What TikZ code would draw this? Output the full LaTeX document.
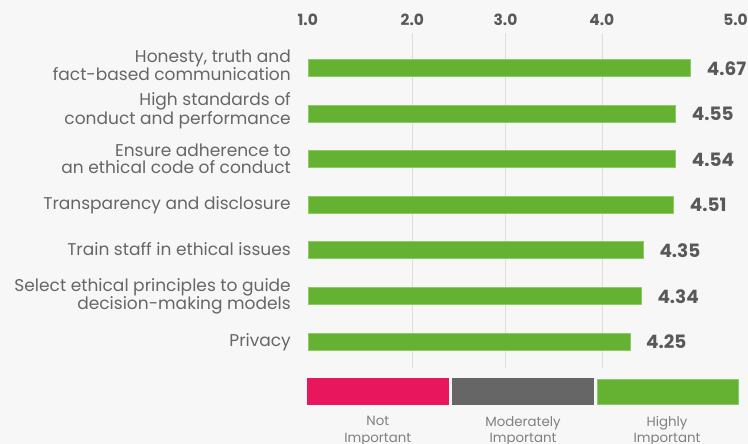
\documentclass[tikz,border=0pt]{standalone}
\usepackage{fontspec}
\setmainfont{Poppins}
\definecolor{bg}{HTML}{F7F7F7}
\definecolor{bargreen}{HTML}{65B232}
\definecolor{baredge}{HTML}{8CCB66}
\definecolor{legred}{HTML}{E8175D}
\definecolor{leggray}{HTML}{666666}
\definecolor{labgray}{HTML}{666666}
\definecolor{valgray}{HTML}{595959}
\definecolor{gridgray}{HTML}{DDDDDD}
\definecolor{leglab}{HTML}{808080}
\tikzset{
  catlabel/.style={anchor=east, align=right, inner sep=0pt, text=labgray, font=\fontsize{17.1}{16.8}\selectfont},
  vallabel/.style={anchor=west, inner sep=0pt, text=valgray, font=\fontsize{18.5}{19}\selectfont\bfseries},
  axislabel/.style={inner sep=0pt, text=valgray, font=\fontsize{15.5}{16}\selectfont\bfseries},
  barbox/.style={fill=bargreen, draw=baredge, line width=0.6bp},
  gridline/.style={draw=gridgray, line width=0.8bp},
  legbox/.style={anchor=north west, inner sep=0pt, minimum height=26.5bp},
  leglabel/.style={anchor=north, align=center, inner sep=0pt, text=leglab, font=\fontsize{13.4}{16.7}\selectfont}
}
\begin{document}
\begin{tikzpicture}[x=1bp,y=-1bp]
\path[fill=bg] (0,0) rectangle (748,444);
\useasboundingbox (0,0) rectangle (748,444);
% gridlines
\foreach \gx/\gn in {412.7/g2,505.7/g3,602/g4}{
  \coordinate (\gn top) at (\gx,33);
  \coordinate (\gn bot) at (\gx,368);
  \draw[gridline] (\gn top) -- (\gn bot);
}
% axis labels
\node[axislabel] (ax1) at (307.8,20) {1.0};
\node[axislabel] (ax2) at (412.3,20) {2.0};
\node[axislabel] (ax3) at (505.5,20) {3.0};
\node[axislabel] (ax4) at (601.8,20) {4.0};
\node[axislabel, anchor=east] (ax5) at (748,20) {5.0};
% bars and values
\foreach \n/\cy/\xe/\v in {b1/68/690.7/4.67, b2/113.5/675.7/4.55, b3/159/675.7/4.54, b4/204.5/673.7/4.51, b5/250/643.3/4.35, b6/296/641.3/4.34, b7/341.5/630/4.25}{
  \path[barbox] (308,\cy-8.6) rectangle (\xe,\cy+8.6);
  \coordinate (\n end) at (\xe+16,\cy+0.5);
  \node[vallabel] (\n val) at (\n end) {\v};
}
% category labels
\node[catlabel] (c1) at (291,65.5) {Honesty, truth and\\fact-based communication};
\node[catlabel] (c2) at (291,111) {High standards of\\conduct and performance};
\node[catlabel] (c3) at (291,159) {Ensure adherence to\\an ethical code of conduct};
\node[catlabel, anchor=base east] (c4) at (291,210) {Transparency and disclosure};
\node[catlabel, anchor=base east] (c5) at (291,256) {Train staff in ethical issues};
\node[catlabel] (c6) at (291,296.5) {Select ethical principles to guide\\decision-making models};
\node[catlabel, anchor=base east] (c7) at (291,346.7) {Privacy};
% legend
\node[legbox, fill=legred, minimum width=142.3bp] (lg1) at (306.7,378) {};
\node[legbox, fill=leggray, minimum width=142bp] (lg2) at (452,378) {};
\node[legbox, fill=bargreen, draw=baredge, line width=0.8bp, minimum width=141.3bp, minimum height=25.5bp] (lg3) at (596.6,378.6) {};
\node[leglabel] (ll1) at (377.8,416) {Not\\Important};
\node[leglabel] (ll2) at (523,416) {Moderately\\Important};
\node[leglabel] (ll3) at (667,416) {Highly\\Important};
\end{tikzpicture}
\end{document}
